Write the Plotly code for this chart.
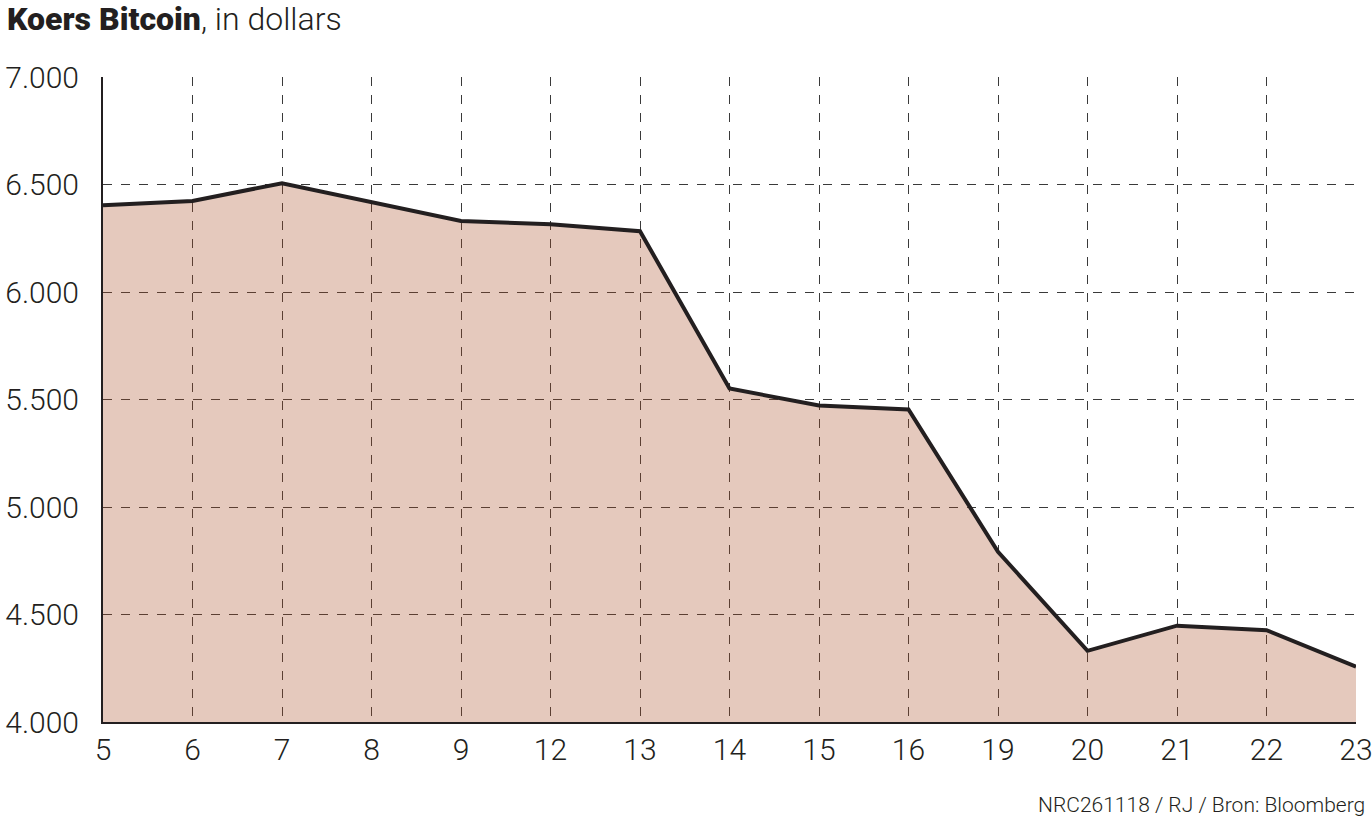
import plotly.graph_objs as go

# Koers Bitcoin, november 2018 (dagen)
days = ["5", "6", "7", "8", "9", "12", "13", "14", "15", "16", "19", "20", "21", "22", "23"]
price = [6404, 6423, 6506, 6420, 6330, 6315, 6283, 5551, 5472, 5454, 4792, 4331, 4448, 4427, 4257]

y_ticks = [4000, 4500, 5000, 5500, 6000, 6500, 7000]
y_labels = ["4.000", "4.500", "5.000", "5.500", "6.000", "6.500", "7.000"]

FONT = "Roboto"
INK = "#231f20"
GRID = "#3a3a3a"

W, H = 1372, 822
L, R, T, B = 103, 16, 77, 100

fig = go.Figure()

# area under the line (semi transparent so the grid stays visible)
fig.add_trace(
    go.Scatter(
        x=days,
        y=price,
        mode="none",
        fill="tozeroy",
        fillcolor="rgba(168,75,38,0.3)",
        hoverinfo="skip",
        showlegend=False,
    )
)

fig.add_trace(
    go.Scatter(
        x=days,
        y=price,
        mode="lines",
        line=dict(color=INK, width=4),
        hovertemplate="%{x}: $%{y:,.0f}<extra></extra>",
        showlegend=False,
    )
)

fig.update_layout(
    width=W,
    height=H,
    margin=dict(l=L, r=R, t=T, b=B),
    plot_bgcolor="white",
    paper_bgcolor="white",
    font=dict(family=FONT, color=INK),
    title=dict(
        text='<span style="font-weight:900">Koers Bitcoin</span>, in dollars',
        font=dict(family=FONT, size=32, color=INK, weight=300),
        xref="container",
        yref="container",
        x=7 / W,
        xanchor="left",
        y=1 - 19 / H,
        yanchor="middle",
    ),
    xaxis=dict(
        type="category",
        range=[0, len(days) - 1],
        automargin=False,
        showgrid=True,
        gridcolor=GRID,
        gridwidth=1,
        griddash="dash",
        showline=True,
        linecolor=INK,
        linewidth=2,
        ticks="",
        tickfont=dict(family=FONT, size=30, color=INK, weight=300),
        ticklabelstandoff=0,
        zeroline=False,
        fixedrange=True,
    ),
    yaxis=dict(
        range=[4000, 7000],
        tickvals=y_ticks,
        ticktext=y_labels,
        automargin=False,
        showgrid=True,
        gridcolor=GRID,
        gridwidth=1,
        griddash="dash",
        showline=True,
        linecolor=INK,
        linewidth=2,
        ticks="",
        tickfont=dict(family=FONT, size=30, color=INK, weight=300),
        ticklabelstandoff=16,
        zeroline=False,
        fixedrange=True,
    ),
    annotations=[
        dict(
            text="NRC261118 / RJ / Bron: Bloomberg",
            xref="paper",
            yref="paper",
            x=(1367 - L) / (W - L - R),
            y=(H - B - 805) / (H - T - B),
            xanchor="right",
            yanchor="middle",
            showarrow=False,
            font=dict(family=FONT, size=21, color=INK, weight=300),
        )
    ],
)

# drop the default 8px body margin so the figure fills the window exactly
fig.write_html(
    "out.html",
    config={"displayModeBar": False},
    post_script="document.body.style.margin = '0';",
)
